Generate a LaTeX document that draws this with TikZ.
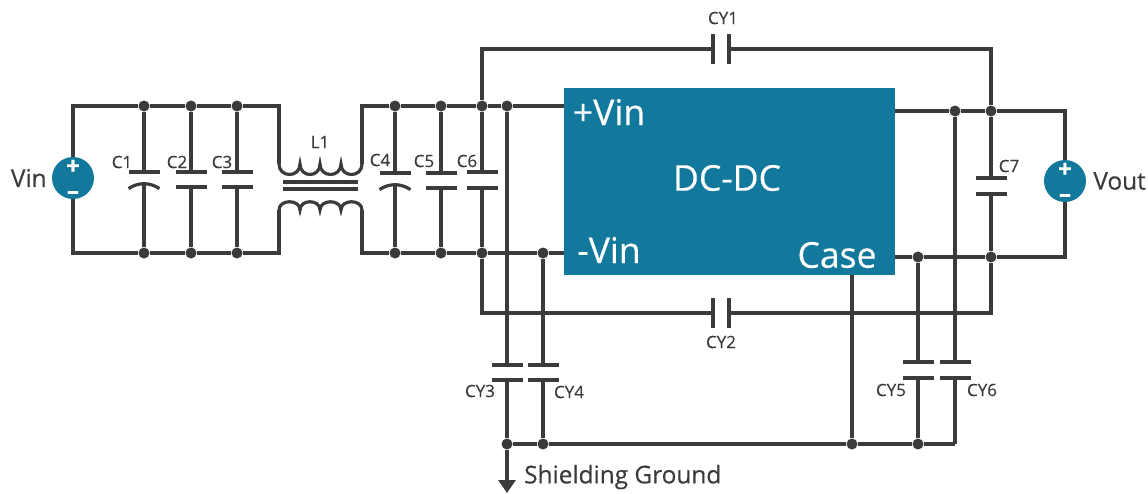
\documentclass[tikz,border=0pt]{standalone}
\usepackage{fontspec}
\setmainfont{Open Sans}[FakeBold=0.35]
\usepackage{tikz}
\usetikzlibrary{arrows.meta, positioning}
\definecolor{wirecol}{HTML}{3A3B3D}
\definecolor{tealcol}{HTML}{12789C}
\tikzset{
wire/.style={draw=wirecol, line width=3.2pt}, % all the connecting lines
junct/.style={circle, fill=wirecol, inner sep=0pt, minimum size=11pt},
hplate/.style={rectangle, fill=wirecol, inner sep=0pt, minimum width=31pt, minimum height=3.2pt},
vplate/.style={rectangle, fill=wirecol, inner sep=0pt, minimum width=3.2pt, minimum height=30pt},
source/.style={circle, fill=tealcol, inner sep=0pt, minimum size=42pt},
sign/.style={text=white, font=\fontsize{24}{24}\selectfont\bfseries, inner sep=0pt},
partname/.style={text=wirecol, font=\fontsize{17}{20}\selectfont, inner sep=0pt},
bigname/.style={text=wirecol, font=\fontsize{24.4}{28}\selectfont, inner sep=0pt},
blockname/.style={text=white, font=\fontsize{35.5}{40}\selectfont, inner sep=0pt},
}

\begin{document}
\begin{tikzpicture}[x=1pt,y=-1pt,node distance=5pt]
  \useasboundingbox (0,0) rectangle (1148,493);
  % block and sources
  \node[rectangle, fill=tealcol, minimum width=331pt, minimum height=187pt, inner sep=0pt] (dcdc) at (729.5,181.5) {};
  \node[source] (vin) at (73,178) {};
  \node[source] (vout) at (1065,181) {};
  \node[sign] (vinp) at (73,167) {+};
  \node[sign] (vinm) at (73,195) {–};
  \node[sign] (voutp) at (1065,170) {+};
  \node[sign] (voutm) at (1065,198) {–};

  % junctions
  \node[junct] (t1) at (144,106) {};
  \node[junct] (t2) at (191,106) {};
  \node[junct] (t3) at (237,106) {};
  \node[junct] (b1) at (144,253) {};
  \node[junct] (b2) at (191,253) {};
  \node[junct] (b3) at (237,253) {};
  \node[junct] (t4) at (395,106) {};
  \node[junct] (t5) at (441,106) {};
  \node[junct] (t6) at (482,106) {};
  \node[junct] (t7) at (507,106) {};
  \node[junct] (b4) at (395,253) {};
  \node[junct] (b5) at (441,253) {};
  \node[junct] (b6) at (482,253) {};
  \node[junct] (b7) at (543,253) {};
  \node[junct] (r1) at (955,111) {};
  \node[junct] (r2) at (991,111) {};
  \node[junct] (r3) at (918,257) {};
  \node[junct] (r4) at (991,257) {};
  \node[junct] (g1) at (507,444) {};
  \node[junct] (g2) at (543,444) {};
  \node[junct] (g3) at (852,444) {};
  \node[junct] (g4) at (918,444) {};

  % capacitor plates
  \node[hplate] (c1a) at (144,172) {};
  \coordinate (c1b) at (144,184);
  \node[hplate] (c2a) at (191,172) {};
  \node[hplate] (c2b) at (191,187) {};
  \node[hplate] (c3a) at (237,172) {};
  \node[hplate] (c3b) at (237,187) {};
  \node[hplate] (c4a) at (395,173) {};
  \coordinate (c4b) at (395,185);
  \node[hplate] (c5a) at (441,173) {};
  \node[hplate] (c5b) at (441,188) {};
  \node[hplate] (c6a) at (482,172) {};
  \node[hplate] (c6b) at (482,188) {};
  \node[hplate] (c7a) at (991,178) {};
  \node[hplate] (c7b) at (991,194) {};
  \node[vplate] (cy1a) at (713,49) {};
  \node[vplate] (cy1b) at (729,49) {};
  \node[vplate] (cy2a) at (713,313) {};
  \node[vplate] (cy2b) at (729,313) {};
  \node[hplate] (cy3a) at (507,365) {};
  \node[hplate] (cy3b) at (507,380) {};
  \node[hplate] (cy4a) at (543,365) {};
  \node[hplate] (cy4b) at (543,380) {};
  \node[hplate] (cy5a) at (918,362) {};
  \node[hplate] (cy5b) at (918,378) {};
  \node[hplate] (cy6a) at (955,362) {};
  \node[hplate] (cy6b) at (955,378) {};

  % corners and free ends
  \coordinate (l1a) at (279,164);
  \coordinate (l1b) at (362,164);
  \coordinate (l1c) at (279,210);
  \coordinate (l1d) at (362,210);
  \coordinate (tlcorner) at (279,106);
  \coordinate (blcorner) at (279,253);
  \coordinate (trcorner) at (362,106);
  \coordinate (brcorner) at (362,253);
  \coordinate (pvin) at (564,106);
  \coordinate (mvin) at (564,253);
  \coordinate (pout) at (895,111);
  \coordinate (mout) at (895,257);
  \coordinate (case) at (852,275);
  \coordinate (cy1l) at (482,49);
  \coordinate (cy1r) at (991,49);
  \coordinate (cy2l) at (482,313);
  \coordinate (cy2r) at (991,313);
  \coordinate (outtop) at (1065,111);
  \coordinate (outbot) at (1065,257);
  \coordinate (gndcorner) at (955,444);
  \coordinate (gnd) at (507,493);

  % wires
  \path[wire]
  (vin.north) |- (t1) (t1) -- (t2) (t2) -- (t3) (t3) -- (tlcorner) -- (l1a)
  (vin.south) |- (b1) (b1) -- (b2) (b2) -- (b3) (b3) -- (blcorner) -- (l1c)
  (l1b) -- (trcorner) -- (t4) (t4) -- (t5) (t5) -- (t6) (t6) -- (t7) (t7) -- (pvin)
  (l1d) -- (brcorner) -- (b4) (b4) -- (b5) (b5) -- (b6) (b6) -- (b7) (b7) -- (mvin)
  (pout) -- (r1) (r1) -- (r2) (r2) -- (outtop) -- (vout.north)
  (mout) -- (r3) (r3) -- (r4) (r4) -- (outbot) -- (vout.south)
  (t1) -- (c1a) (c1b) -- (b1)
  (t2) -- (c2a) (c2b) -- (b2)
  (t3) -- (c3a) (c3b) -- (b3)
  (t4) -- (c4a) (c4b) -- (b4)
  (t5) -- (c5a) (c5b) -- (b5)
  (t6) -- (c6a) (c6b) -- (b6)
  (r2) -- (c7a) (c7b) -- (r4)
  (t6) -- (cy1l) -- (cy1a) (cy1b) -- (cy1r) -- (r2)
  (b6) -- (cy2l) -- (cy2a) (cy2b) -- (cy2r) -- (r4)
  (t7) -- (cy3a) (cy3b) -- (g1)
  (b7) -- (cy4a) (cy4b) -- (g2)
  (r3) -- (cy5a) (cy5b) -- (g4)
  (r1) -- (cy6a) (cy6b) -- (gndcorner)
  (case) -- (g3)
  (g1) -- (g2) (g2) -- (g3) (g3) -- (g4) (g4) -- (gndcorner);
  \draw[wire, -{Triangle[width=17pt,length=13pt]}] (g1) -- (gnd);

  % curved plates of C1 and C4
  \draw[wire] ([shift={(-15.5,4.5)}]c1b) to[bend left=32] ([shift={(15.5,4.5)}]c1b);
  \draw[wire] ([shift={(-15.5,4.5)}]c4b) to[bend left=32] ([shift={(15.5,4.5)}]c4b);

  % transformer L1
  \draw[wire] (l1a) .. controls (279,178) and (300,178) .. (300,164)
    .. controls (300,178) and (320,178) .. (320,164)
    .. controls (320,178) and (341,178) .. (341,164)
    .. controls (341,178) and (362,178) .. (l1b);
  \draw[wire] (l1c) .. controls (279,199) and (300,199) .. (300,210)
    .. controls (300,199) and (320,199) .. (320,210)
    .. controls (320,199) and (341,199) .. (341,210)
    .. controls (341,199) and (362,199) .. (l1d);
  \coordinate (corea) at (283,182);
  \coordinate (coreb) at (358,182);
  \coordinate (corec) at (283,189);
  \coordinate (cored) at (358,189);
  \path[wire] (corea) -- (coreb) (corec) -- (cored);

  % labels
  \node[partname] (c1name) at (122,162) {C1};
  \node[partname] (c2name) at (177,162) {C2};
  \node[partname] (c3name) at (222,162) {C3};
  \node[partname] (l1name) at (320,142) {L1};
  \node[partname] (c4name) at (380,160) {C4};
  \node[partname] (c5name) at (424,161) {C5};
  \node[partname] (c6name) at (467,161) {C6};
  \node[partname] (c7name) at (1009,166) {C7};
  \node[partname] (cy1name) at (723,18) {CY1};
  \node[partname] (cy2name) at (721,342) {CY2};
  \node[partname] (cy3name) at (480,391) {CY3};
  \node[partname] (cy4name) at (569,392) {CY4};
  \node[partname] (cy5name) at (891,390) {CY5};
  \node[partname] (cy6name) at (982,390) {CY6};
  \node[bigname, left=of vin] (vinname) {Vin};
  \node[bigname, right=7pt of vout] (voutname) {Vout};
  \node[bigname, anchor=west] (shield) at (524,477) {Shielding Ground};
  \node[blockname] (pvinname) at (609,112) {+Vin};
  \node[blockname] (mvinname) at (609,250) {-Vin};
  \node[blockname] (dcname) at (727,178) {DC-DC};
  \node[blockname] (casename) at (837,255) {Case};
\end{tikzpicture}
\end{document}
